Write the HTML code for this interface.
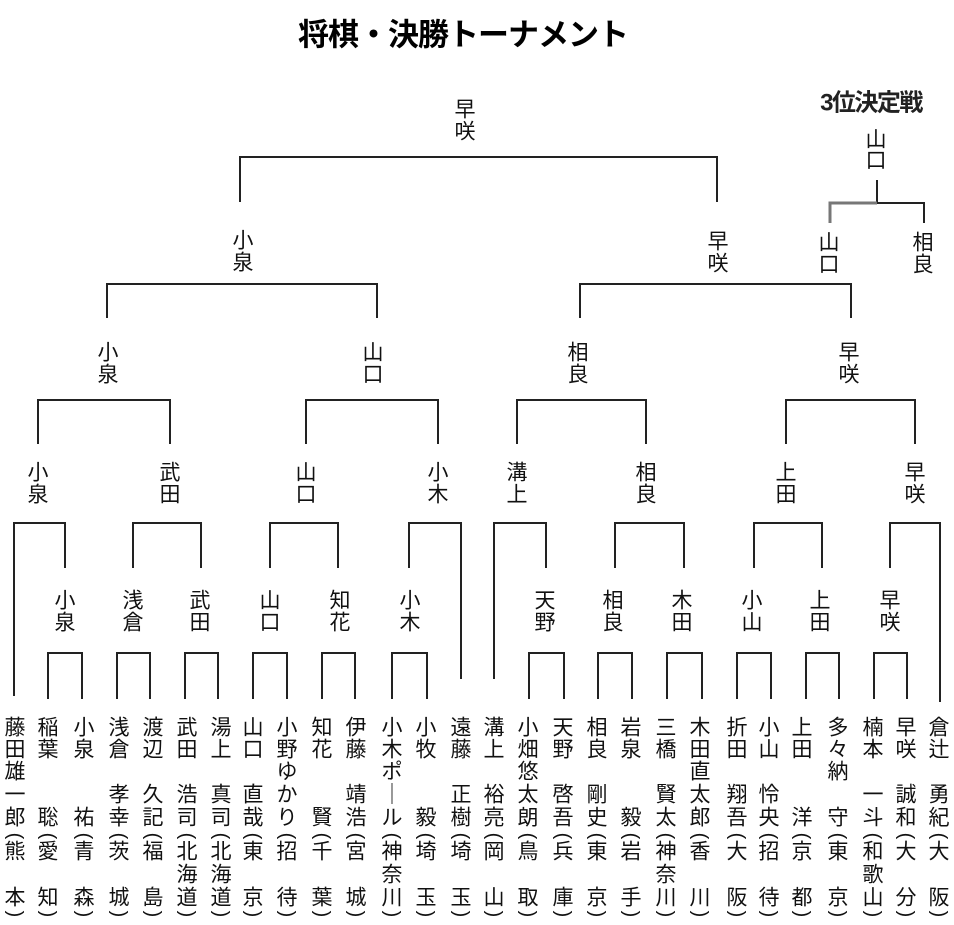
<!DOCTYPE html>
<html><head><meta charset="utf-8">
<style>
html,body{margin:0;padding:0;background:#fff;}
svg{display:block}
text{font-family:"Liberation Sans","Noto Sans CJK JP",sans-serif;fill:#111;text-anchor:middle;dominant-baseline:central;font-size:21px}
.t{font-size:31px;font-weight:bold;fill:#000}
.b{font-size:24px;font-weight:bold;fill:#222}
.p{font-family:"Liberation Sans",sans-serif;font-size:20px}
</style></head><body>
<svg width="954" height="925" viewBox="0 0 954 925" xmlns="http://www.w3.org/2000/svg">
<defs></defs>
<text class="t" x="463" y="35" letter-spacing="-1">将棋・決勝トーナメント</text>
<text class="b" x="871" y="103" letter-spacing="-1.5">3位決定戦</text>

<g fill="none" stroke="#222" stroke-width="2">
<path d="M240 202V157H717V202"/>
<path d="M107 318V284H377V318"/>
<path d="M580 318V284H851V318"/>
<path d="M38 444V400H170V444"/>
<path d="M306 444V400H438V444"/>
<path d="M517 444V400H646V444"/>
<path d="M786 444V400H915V444"/>
<path d="M14 696V523H65V568"/>
<path d="M133 568V523H201V568"/>
<path d="M270 568V523H338V568"/>
<path d="M409 568V523H461V679"/>
<path d="M494 679V523H546V568"/>
<path d="M615 568V523H684V568"/>
<path d="M754 568V523H822V568"/>
<path d="M890 568V523H940V702"/>
<path d="M48 699V653H82V699"/>
<path d="M117 699V653H150V699"/>
<path d="M185 699V653H218V699"/>
<path d="M253 699V653H287V699"/>
<path d="M322 699V653H355V699"/>
<path d="M392 699V653H427V699"/>
<path d="M529 699V653H564V699"/>
<path d="M598 699V653H632V699"/>
<path d="M667 699V653H702V699"/>
<path d="M737 699V653H771V699"/>
<path d="M806 699V653H839V699"/>
<path d="M874 699V653H907V699"/>
<path d="M877 180V203H924V223"/>
</g>
<path d="M877 203H830V223" fill="none" stroke="#777" stroke-width="3"/>

<text x="465" y="110">早</text><text x="465" y="132">咲</text>
<text x="876" y="140">山</text><text x="876" y="161">口</text>
<text x="829" y="243">山</text><text x="829" y="265">口</text>
<text x="923" y="243">相</text><text x="923" y="265">良</text>
<text x="243" y="241">小</text><text x="243" y="263">泉</text>
<text x="718" y="242">早</text><text x="718" y="264">咲</text>
<text x="108" y="353">小</text><text x="108" y="375">泉</text>
<text x="373" y="353">山</text><text x="373" y="375">口</text>
<text x="578" y="353">相</text><text x="578" y="375">良</text>
<text x="849" y="353">早</text><text x="849" y="375">咲</text>
<text x="38" y="473">小</text><text x="38" y="495">泉</text>
<text x="170" y="473">武</text><text x="170" y="495">田</text>
<text x="306" y="473">山</text><text x="306" y="495">口</text>
<text x="438" y="473">小</text><text x="438" y="495">木</text>
<text x="517" y="473">溝</text><text x="517" y="495">上</text>
<text x="646" y="473">相</text><text x="646" y="495">良</text>
<text x="786" y="473">上</text><text x="786" y="495">田</text>
<text x="915" y="473">早</text><text x="915" y="495">咲</text>
<text x="65" y="601">小</text><text x="65" y="623">泉</text>
<text x="133" y="601">浅</text><text x="133" y="623">倉</text>
<text x="200" y="601">武</text><text x="200" y="623">田</text>
<text x="270" y="601">山</text><text x="270" y="623">口</text>
<text x="340" y="601">知</text><text x="340" y="623">花</text>
<text x="410" y="601">小</text><text x="410" y="623">木</text>
<text x="545" y="601">天</text><text x="545" y="623">野</text>
<text x="613" y="601">相</text><text x="613" y="623">良</text>
<text x="682" y="601">木</text><text x="682" y="623">田</text>
<text x="752" y="601">小</text><text x="752" y="623">山</text>
<text x="820" y="601">上</text><text x="820" y="623">田</text>
<text x="890" y="601">早</text><text x="890" y="623">咲</text>

<g transform="translate(15,0)"><text y="728">藤</text><text y="750">田</text><text y="772">雄</text><text y="795">一</text><text y="818">郎</text><text class="p" transform="translate(0,836) rotate(90)">(</text><text y="852">熊</text><text y="898">本</text><text class="p" transform="translate(0,914) rotate(90)">)</text></g>
<g transform="translate(48,0)"><text y="728">稲</text><text y="750">葉</text><text y="818">聡</text><text class="p" transform="translate(0,836) rotate(90)">(</text><text y="852">愛</text><text y="898">知</text><text class="p" transform="translate(0,914) rotate(90)">)</text></g>
<g transform="translate(84,0)"><text y="728">小</text><text y="750">泉</text><text y="818">祐</text><text class="p" transform="translate(0,836) rotate(90)">(</text><text y="852">青</text><text y="898">森</text><text class="p" transform="translate(0,914) rotate(90)">)</text></g>
<g transform="translate(119,0)"><text y="728">浅</text><text y="750">倉</text><text y="795">孝</text><text y="818">幸</text><text class="p" transform="translate(0,836) rotate(90)">(</text><text y="852">茨</text><text y="898">城</text><text class="p" transform="translate(0,914) rotate(90)">)</text></g>
<g transform="translate(153,0)"><text y="728">渡</text><text y="750">辺</text><text y="795">久</text><text y="818">記</text><text class="p" transform="translate(0,836) rotate(90)">(</text><text y="852">福</text><text y="898">島</text><text class="p" transform="translate(0,914) rotate(90)">)</text></g>
<g transform="translate(187,0)"><text y="728">武</text><text y="750">田</text><text y="795">浩</text><text y="818">司</text><text class="p" transform="translate(0,836) rotate(90)">(</text><text y="852">北</text><text y="875">海</text><text y="898">道</text><text class="p" transform="translate(0,914) rotate(90)">)</text></g>
<g transform="translate(221,0)"><text y="728">湯</text><text y="750">上</text><text y="795">真</text><text y="818">司</text><text class="p" transform="translate(0,836) rotate(90)">(</text><text y="852">北</text><text y="875">海</text><text y="898">道</text><text class="p" transform="translate(0,914) rotate(90)">)</text></g>
<g transform="translate(253,0)"><text y="728">山</text><text y="750">口</text><text y="795">直</text><text y="818">哉</text><text class="p" transform="translate(0,836) rotate(90)">(</text><text y="852">東</text><text y="898">京</text><text class="p" transform="translate(0,914) rotate(90)">)</text></g>
<g transform="translate(287,0)"><text y="728">小</text><text y="750">野</text><text y="772">ゆ</text><text y="795">か</text><text y="818">り</text><text class="p" transform="translate(0,836) rotate(90)">(</text><text y="852">招</text><text y="898">待</text><text class="p" transform="translate(0,914) rotate(90)">)</text></g>
<g transform="translate(322,0)"><text y="728">知</text><text y="750">花</text><text y="818">賢</text><text class="p" transform="translate(0,836) rotate(90)">(</text><text y="852">千</text><text y="898">葉</text><text class="p" transform="translate(0,914) rotate(90)">)</text></g>
<g transform="translate(356,0)"><text y="728">伊</text><text y="750">藤</text><text y="795">靖</text><text y="818">浩</text><text class="p" transform="translate(0,836) rotate(90)">(</text><text y="852">宮</text><text y="898">城</text><text class="p" transform="translate(0,914) rotate(90)">)</text></g>
<g transform="translate(392,0)"><text y="728">小</text><text y="750">木</text><text y="772">ポ</text><text y="795">｜</text><text y="818">ル</text><text class="p" transform="translate(0,836) rotate(90)">(</text><text y="852">神</text><text y="875">奈</text><text y="898">川</text><text class="p" transform="translate(0,914) rotate(90)">)</text></g>
<g transform="translate(426,0)"><text y="728">小</text><text y="750">牧</text><text y="818">毅</text><text class="p" transform="translate(0,836) rotate(90)">(</text><text y="852">埼</text><text y="898">玉</text><text class="p" transform="translate(0,914) rotate(90)">)</text></g>
<g transform="translate(461,0)"><text y="728">遠</text><text y="750">藤</text><text y="795">正</text><text y="818">樹</text><text class="p" transform="translate(0,836) rotate(90)">(</text><text y="852">埼</text><text y="898">玉</text><text class="p" transform="translate(0,914) rotate(90)">)</text></g>

<g transform="translate(494,0)"><text y="728">溝</text><text y="750">上</text><text y="795">裕</text><text y="818">亮</text><text class="p" transform="translate(0,836) rotate(90)">(</text><text y="852">岡</text><text y="898">山</text><text class="p" transform="translate(0,914) rotate(90)">)</text></g>
<g transform="translate(528,0)"><text y="728">小</text><text y="750">畑</text><text y="772">悠</text><text y="795">太</text><text y="818">朗</text><text class="p" transform="translate(0,836) rotate(90)">(</text><text y="852">鳥</text><text y="898">取</text><text class="p" transform="translate(0,914) rotate(90)">)</text></g>
<g transform="translate(563,0)"><text y="728">天</text><text y="750">野</text><text y="795">啓</text><text y="818">吾</text><text class="p" transform="translate(0,836) rotate(90)">(</text><text y="852">兵</text><text y="898">庫</text><text class="p" transform="translate(0,914) rotate(90)">)</text></g>
<g transform="translate(597,0)"><text y="728">相</text><text y="750">良</text><text y="795">剛</text><text y="818">史</text><text class="p" transform="translate(0,836) rotate(90)">(</text><text y="852">東</text><text y="898">京</text><text class="p" transform="translate(0,914) rotate(90)">)</text></g>
<g transform="translate(631,0)"><text y="728">岩</text><text y="750">泉</text><text y="818">毅</text><text class="p" transform="translate(0,836) rotate(90)">(</text><text y="852">岩</text><text y="898">手</text><text class="p" transform="translate(0,914) rotate(90)">)</text></g>
<g transform="translate(666,0)"><text y="728">三</text><text y="750">橋</text><text y="795">賢</text><text y="818">太</text><text class="p" transform="translate(0,836) rotate(90)">(</text><text y="852">神</text><text y="875">奈</text><text y="898">川</text><text class="p" transform="translate(0,914) rotate(90)">)</text></g>
<g transform="translate(700,0)"><text y="728">木</text><text y="750">田</text><text y="772">直</text><text y="795">太</text><text y="818">郎</text><text class="p" transform="translate(0,836) rotate(90)">(</text><text y="852">香</text><text y="898">川</text><text class="p" transform="translate(0,914) rotate(90)">)</text></g>
<g transform="translate(737,0)"><text y="728">折</text><text y="750">田</text><text y="795">翔</text><text y="818">吾</text><text class="p" transform="translate(0,836) rotate(90)">(</text><text y="852">大</text><text y="898">阪</text><text class="p" transform="translate(0,914) rotate(90)">)</text></g>
<g transform="translate(769,0)"><text y="728">小</text><text y="750">山</text><text y="795">怜</text><text y="818">央</text><text class="p" transform="translate(0,836) rotate(90)">(</text><text y="852">招</text><text y="898">待</text><text class="p" transform="translate(0,914) rotate(90)">)</text></g>
<g transform="translate(802,0)"><text y="728">上</text><text y="750">田</text><text y="818">洋</text><text class="p" transform="translate(0,836) rotate(90)">(</text><text y="852">京</text><text y="898">都</text><text class="p" transform="translate(0,914) rotate(90)">)</text></g>
<g transform="translate(838,0)"><text y="728">多</text><text y="750">々</text><text y="772">納</text><text y="818">守</text><text class="p" transform="translate(0,836) rotate(90)">(</text><text y="852">東</text><text y="898">京</text><text class="p" transform="translate(0,914) rotate(90)">)</text></g>
<g transform="translate(873,0)"><text y="728">楠</text><text y="750">本</text><text y="795">一</text><text y="818">斗</text><text class="p" transform="translate(0,836) rotate(90)">(</text><text y="852">和</text><text y="875">歌</text><text y="898">山</text><text class="p" transform="translate(0,914) rotate(90)">)</text></g>
<g transform="translate(906,0)"><text y="728">早</text><text y="750">咲</text><text y="795">誠</text><text y="818">和</text><text class="p" transform="translate(0,836) rotate(90)">(</text><text y="852">大</text><text y="898">分</text><text class="p" transform="translate(0,914) rotate(90)">)</text></g>
<g transform="translate(939,0)"><text y="728">倉</text><text y="750">辻</text><text y="795">勇</text><text y="818">紀</text><text class="p" transform="translate(0,836) rotate(90)">(</text><text y="852">大</text><text y="898">阪</text><text class="p" transform="translate(0,914) rotate(90)">)</text></g>
</svg>
</body></html>
